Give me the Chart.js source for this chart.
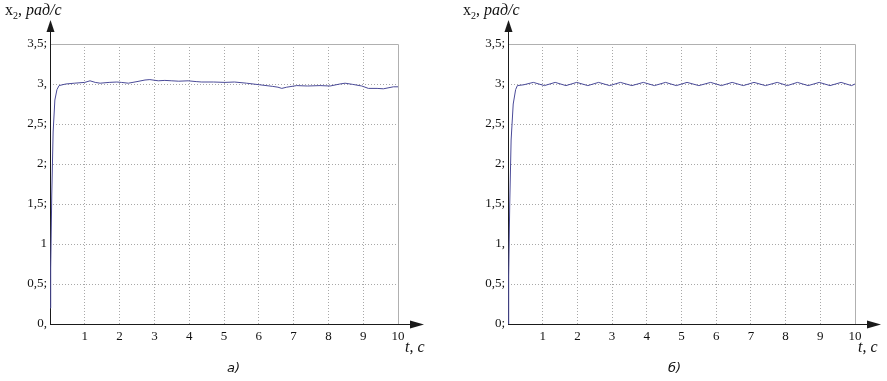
<!DOCTYPE html>
<html>
<head>
<meta charset="utf-8">
<script src="https://cdn.jsdelivr.net/npm/chart.js@4/dist/chart.umd.min.js"></script>
<style>
  body { margin: 0; background: #fff; }
  #page { position: relative; width: 887px; height: 381px; overflow: hidden; }
  .box { position: absolute; top: 0; height: 381px; }
  .lbl { position: absolute; font-family: "Liberation Serif", serif; color: #111; white-space: nowrap; }
  .cap { position: absolute; font-family: "DejaVu Sans", sans-serif; font-style: italic; font-size: 13px; color: #111; }
</style>
</head>
<body>
<div id="page">
  <div class="box" style="left:0;width:443px"><canvas id="chartA"></canvas></div>
  <div class="box" style="left:443px;width:444px"><canvas id="chartB"></canvas></div>

  <div class="lbl" style="left:5px;top:1px;font-size:16px">x<sub style="font-size:10px">2</sub>, <i>рад/с</i></div>
  <div class="lbl" style="left:463px;top:1px;font-size:16px">x<sub style="font-size:10px">2</sub>, <i>рад/с</i></div>
  <div class="lbl" style="left:405px;top:338px;font-size:16px"><i>t</i>, <i>c</i></div>
  <div class="lbl" style="left:858px;top:338px;font-size:16px"><i>t</i>, <i>c</i></div>
  <div class="cap" style="left:227px;top:360px">а)</div>
  <div class="cap" style="left:668px;top:360px">б)</div>
</div>

<script>
/* tick labels as printed */
const yTicksA = ["0,", "0,5;", "1", "1,5;", "2;", "2,5;", "3,", "3,5;"];
const yTicksB = ["0;", "0,5;", "1,", "1,5;", "2;", "2,5;", "3;", "3,5;"];
const xTicks = ["", "1", "2", "3", "4", "5", "6", "7", "8", "9", "10"];

/* а) speed x2, rad/s */
const tA = [0, 0.02, 0.05, 0.09, 0.14, 0.2, 0.26, 0.45, 0.7, 1.0, 1.15, 1.3, 1.44, 1.7, 1.92, 2.05, 2.25, 2.5, 2.73, 2.87,
  3.11, 3.3, 3.5, 3.7, 3.97, 4.2, 4.36, 4.7, 5.03, 5.3, 5.65, 6.03, 6.4, 6.55, 6.66, 6.8, 7.09, 7.4, 7.76, 8.05,
  8.33, 8.48, 8.7, 8.96, 9.15, 9.4, 9.58, 9.87, 10];
const xA = [0.2, 0.7, 1.6, 2.4, 2.8, 2.93, 2.98, 3.0, 3.01, 3.02, 3.04, 3.02, 3.01, 3.02, 3.025, 3.02, 3.01, 3.03, 3.05, 3.055,
  3.04, 3.045, 3.04, 3.035, 3.04, 3.03, 3.025, 3.025, 3.02, 3.025, 3.01, 2.99, 2.97, 2.96, 2.945, 2.96, 2.98, 2.975, 2.98, 2.975,
  3.0, 3.01, 2.995, 2.975, 2.945, 2.945, 2.94, 2.965, 2.965];

/* б) speed x2, rad/s */
const tB = [0, 0.02, 0.05, 0.09, 0.15, 0.22, 0.27, 0.45, 0.73, 1.05, 1.36, 1.67, 1.98, 2.3, 2.61, 2.93, 3.24, 3.57, 3.9, 4.22,
  4.54, 4.85, 5.16, 5.5, 5.84, 6.15, 6.46, 6.78, 7.09, 7.42, 7.76, 8.05, 8.34, 8.65, 8.97, 9.28, 9.6, 9.9, 10];
const xB = [0, 0.6, 1.5, 2.3, 2.75, 2.93, 2.98, 2.99, 3.02, 2.98, 3.02, 2.98, 3.02, 2.98, 3.02, 2.98, 3.02, 2.98, 3.02, 2.98,
  3.02, 2.98, 3.02, 2.98, 3.02, 2.98, 3.02, 2.98, 3.02, 2.98, 3.02, 2.98, 3.02, 2.98, 3.02, 2.98, 3.02, 2.98, 3.0];

const lineColor = "#4a4a98";
const gridColor = "#a8a8a8";
const axisColor = "#1a1a1a";

/* frame (top + right), axes with arrows */
const axesPlugin = {
  id: "axes",
  beforeDatasetsDraw(chart) {
    const { ctx, chartArea: a } = chart;
    ctx.save();
    ctx.strokeStyle = "#b0b0b0";
    ctx.lineWidth = 1;
    ctx.beginPath();
    ctx.moveTo(a.left, a.top + 0.5);
    ctx.lineTo(a.right + 0.5, a.top + 0.5);
    ctx.lineTo(a.right + 0.5, a.bottom);
    ctx.stroke();

    ctx.strokeStyle = axisColor;
    ctx.fillStyle = axisColor;
    ctx.beginPath();
    ctx.moveTo(a.left + 0.5, a.bottom + 0.5);
    ctx.lineTo(a.left + 0.5, a.top - 14);
    ctx.moveTo(a.left, a.bottom + 0.5);
    ctx.lineTo(a.right + 15, a.bottom + 0.5);
    ctx.stroke();
    // arrow up
    ctx.beginPath();
    ctx.moveTo(a.left + 0.5, a.top - 24);
    ctx.lineTo(a.left - 3.5, a.top - 12);
    ctx.lineTo(a.left + 4.5, a.top - 12);
    ctx.closePath();
    ctx.fill();
    // arrow right
    ctx.beginPath();
    ctx.moveTo(a.right + 26, a.bottom + 0.5);
    ctx.lineTo(a.right + 12, a.bottom - 3.5);
    ctx.lineTo(a.right + 12, a.bottom + 4.5);
    ctx.closePath();
    ctx.fill();
    ctx.restore();
  }
};

function makeChart(id, t, x, yLabels, pad) {
  const points = t.map((v, i) => ({ x: v, y: x[i] }));
  return new Chart(document.getElementById(id), {
    type: "line",
    data: {
      datasets: [{
        data: points,
        borderColor: lineColor,
        borderWidth: 1,
        pointRadius: 0,
        tension: 0,
        fill: false
      }]
    },
    options: {
      responsive: true,
      maintainAspectRatio: false,
      animation: false,
      layout: { padding: pad },
      plugins: { legend: { display: false }, tooltip: { enabled: false } },
      scales: {
        x: {
          type: "linear",
          min: 0,
          max: 10,
          afterFit: (s) => { s.height = 57; },
          ticks: {
            stepSize: 1,
            padding: 5,
            color: "#111",
            font: { family: "'Liberation Serif', serif", size: 13 },
            callback: (v) => xTicks[v] ?? ""
          },
          grid: {
            drawTicks: false,
            color: (c) => (c.tick && c.tick.value > 0 && c.tick.value < 10 ? gridColor : "transparent")
          },
          border: { display: false, dash: [1, 2] }
        },
        y: {
          min: 0,
          max: 3.5,
          afterFit: (s) => { s.width = 50; },
          ticks: {
            stepSize: 0.5,
            padding: 3,
            color: "#111",
            font: { family: "'Liberation Serif', serif", size: 13 },
            callback: (v) => yLabels[Math.round(v * 2)] ?? ""
          },
          grid: {
            drawTicks: false,
            color: (c) => (c.tick && c.tick.value > 0 && c.tick.value < 3.5 ? gridColor : "transparent")
          },
          border: { display: false, dash: [1, 2] }
        }
      }
    },
    plugins: [axesPlugin]
  });
}

document.fonts.load("13px 'Liberation Serif'").then(() => {
  makeChart("chartA", tA, xA, yTicksA, { top: 44, right: 45, left: 0, bottom: 0 });
  makeChart("chartB", tB, xB, yTicksB, { top: 44, right: 32, left: 15, bottom: 0 });
});
</script>
</body>
</html>
